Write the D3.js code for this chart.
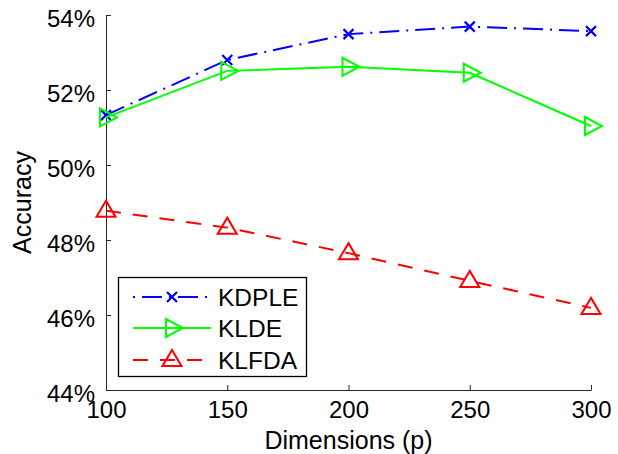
<!DOCTYPE html>
<html>
<head>
<meta charset="utf-8">
<script src="https://cdn.jsdelivr.net/npm/d3@7"></script>
<style>
  body { margin: 0; background: #fff; }
  svg text { font-family: "Liberation Sans", Arial, Helvetica, sans-serif; }
</style>
</head>
<body>
<svg></svg>
<script>
var width = 618;
var height = 454;

var dims = [100, 150, 200, 250, 300];
var kdple = [51.33, 52.8, 53.49, 53.69, 53.57];
var klde = [51.27, 52.51, 52.62, 52.46, 51.04];
var klfda = [48.78, 48.33, 47.65, 46.91, 46.19];
var yTicks = [44, 46, 48, 50, 52, 54];
var seriesNames = ["KDPLE", "KLDE", "KLFDA"];

var series = [
  { name: seriesNames[0], values: kdple, color: "#0000ff", dash: "20,7,2,7", marker: "x" },
  { name: seriesNames[1], values: klde, color: "#00ff00", dash: null, marker: "right" },
  { name: seriesNames[2], values: klfda, color: "#ff0000", dash: "15,12", marker: "up" }
];

var svg = d3.select("svg")
    .attr("width", width)
    .attr("height", height);

var xScale = d3.scaleLinear()
    .domain([100, 300])
    .range([106, 591]);

var yScale = d3.scaleLinear()
    .domain([44, 54])
    .range([390, 15]);

// axes, ticks pointing inward like matlab
var xAxis = svg.append("g")
    .attr("transform", "translate(0," + yScale(44) + ")")
    .call(d3.axisBottom(xScale)
            .tickValues(dims)
            .tickSizeInner(-5)
            .tickSizeOuter(0)
            .tickPadding(11));

var yAxis = svg.append("g")
    .attr("transform", "translate(" + xScale(100) + ",0)")
    .call(d3.axisLeft(yScale)
            .tickValues(yTicks)
            .tickFormat(d => d + "%")
            .tickSizeInner(-5)
            .tickSizeOuter(0)
            .tickPadding(11));

yAxis.selectAll("text").attr("dy", "0.48em");

[xAxis, yAxis].forEach(function(ax) {
  ax.selectAll("path, line").attr("stroke", "#262626").attr("stroke-width", 1);
  ax.selectAll("text")
      .attr("fill", "#000")
      .style("font-size", "24px")
      .style("font-family", "'Liberation Sans', Arial, sans-serif");
});

svg.append("text")
    .attr("x", (xScale(100) + xScale(300)) / 2)
    .attr("y", 449)
    .style("text-anchor", "middle")
    .style("font-size", "25px")
    .text("Dimensions (p)");

svg.append("text")
    .attr("transform", "rotate(-90)")
    .attr("x", -(yScale(44) + yScale(54)) / 2)
    .attr("y", 31)
    .style("text-anchor", "middle")
    .style("font-size", "25px")
    .text("Accuracy");

function drawMarker(g, type, color) {
  if (type === "x") {
    g.append("path")
        .attr("d", "M-5,-5L5,5M-5,5L5,-5")
        .attr("stroke", color)
        .attr("stroke-width", 2.2)
        .attr("fill", "none");
  } else if (type === "right") {
    g.append("path")
        .attr("d", "M-6,-9L11,0L-6,9Z")
        .attr("stroke", color)
        .attr("stroke-width", 2)
        .attr("fill", "none");
  } else {
    g.append("path")
        .attr("d", "M0,-10L9.5,6L-9.5,6Z")
        .attr("stroke", color)
        .attr("stroke-width", 2)
        .attr("fill", "none");
  }
}

var line = d3.line()
    .x((d, i) => xScale(dims[i]))
    .y(d => yScale(d));

series.forEach(function(s) {
  svg.append("path")
      .datum(s.values)
      .attr("d", line)
      .attr("fill", "none")
      .attr("stroke", s.color)
      .attr("stroke-width", 2)
      .attr("stroke-dasharray", s.dash);

  s.values.forEach(function(v, i) {
    var g = svg.append("g")
        .attr("transform", "translate(" + xScale(dims[i]) + "," + yScale(v) + ")");
    drawMarker(g, s.marker, s.color);
  });
});

// legend
var legend = svg.append("g");

legend.append("rect")
    .attr("x", 118.5)
    .attr("y", 277.5)
    .attr("width", 188)
    .attr("height", 99)
    .attr("fill", "#fff")
    .attr("stroke", "#000")
    .attr("stroke-width", 1.3);

var legendY = [297, 328, 360];

series.forEach(function(s, i) {
  legend.append("line")
      .attr("x1", 133)
      .attr("x2", 211)
      .attr("y1", legendY[i])
      .attr("y2", legendY[i])
      .attr("stroke", s.color)
      .attr("stroke-width", 2)
      .attr("stroke-dasharray", s.marker === "x" ? "2,7,20,7" : s.dash);

  var g = legend.append("g")
      .attr("transform", "translate(172," + legendY[i] + ")");
  drawMarker(g, s.marker, s.color);

  legend.append("text")
      .attr("x", 218)
      .attr("y", legendY[i] + 9)
      .style("font-size", "24.5px")
      .text(s.name);
});
</script>
</body>
</html>
